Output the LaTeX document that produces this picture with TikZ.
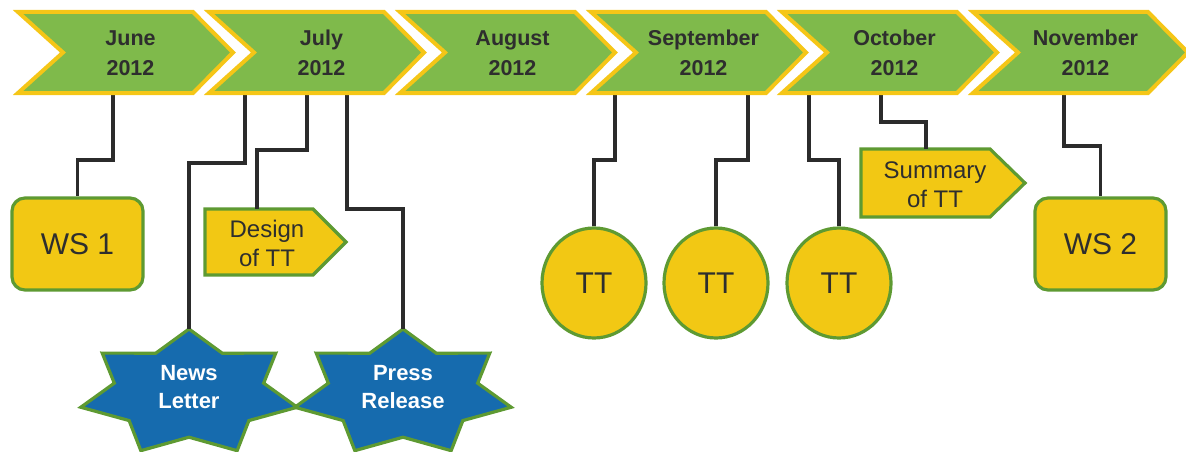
\documentclass[tikz,border=0pt]{standalone}
\usepackage{fontspec}
\setmainfont{Liberation Sans}
\usetikzlibrary{shapes.geometric}
\definecolor{chevgreen}{HTML}{7FBA4B}
\definecolor{chevyellow}{HTML}{F5C617}
\definecolor{boxyellow}{HTML}{F2C814}
\definecolor{boxgreen}{HTML}{5E9A32}
\definecolor{starblue}{HTML}{166BAE}
\definecolor{linegray}{HTML}{2B2B2B}
\definecolor{txtgray}{HTML}{2E2E2E}
\begin{document}
\begin{tikzpicture}[x=1pt,y=-1pt,
  chev/.style={fill=chevgreen, draw=chevyellow, line width=4pt, line join=miter},
  monthtxt/.style={font=\fontsize{21.5}{30}\selectfont\bfseries, text=txtgray, align=center, inner sep=0pt},
  conn/.style={draw=linegray, line width=3.4pt, line join=miter},
  ybox/.style={fill=boxyellow, draw=boxgreen, line width=3.2pt},
  wsbox/.style={ybox, rounded corners=13pt, minimum width=131pt, minimum height=92pt, font=\fontsize{30}{34}\selectfont, text=txtgray},
  ttcirc/.style={ybox, ellipse, minimum width=104pt, minimum height=110pt, inner sep=0pt, font=\fontsize{30}{34}\selectfont, text=txtgray},
  sigtxt/.style={font=\fontsize{24}{29}\selectfont, text=txtgray, align=center, inner sep=0pt},
  starshape/.style={fill=starblue, draw=boxgreen, line width=3.2pt, line join=miter},
  startxt/.style={font=\fontsize{22}{28}\selectfont\bfseries, text=white, align=center, inner sep=0pt}
]
\useasboundingbox (0,0) rectangle (1186,452);

% target shapes
\node[wsbox] (ws1) at (77.5,244) {WS 1};
\node[wsbox] (ws2) at (1100.5,244) {WS 2};
\node[ttcirc] (tt1) at (594,283) {TT};
\node[ttcirc] (tt2) at (716,283) {TT};
\node[ttcirc] (tt3) at (839,283) {TT};

\draw[ybox] (205,209) -- (313,209) -- (346,242) -- (313,275) -- (205,275) -- cycle;
\node[sigtxt] (des) at (267,243) {Design\\of TT};
\coordinate (desTop) at (257,209);

\draw[ybox] (861,149) -- (990,149) -- (1025,183) -- (990,217) -- (861,217) -- cycle;
\node[sigtxt] (sum) at (935,185) {Summary\\of TT};
\coordinate (sumTop) at (926,149);

\begin{scope}[shift={(189,393)}]
  \draw[starshape] (90:111pt and 64pt)
    \foreach \k in {0,...,6} { -- ({90+25.714+51.4286*\k}:76.6pt and 44.2pt) -- ({90+51.4286*(\k+1)}:111pt and 64pt) } -- cycle;
\end{scope}
\node[startxt] (nl) at (189,387) {News\\Letter};
\coordinate (nlTop) at (189,329);

\begin{scope}[shift={(403,393)}]
  \draw[starshape] (90:111pt and 64pt)
    \foreach \k in {0,...,6} { -- ({90+25.714+51.4286*\k}:76.6pt and 44.2pt) -- ({90+51.4286*(\k+1)}:111pt and 64pt) } -- cycle;
\end{scope}
\node[startxt] (pr) at (403,387) {Press\\Release};
\coordinate (prTop) at (403,329);

% connectors
\draw[conn] (113,90) -- (113,160) -| (ws1.north);
\draw[conn] (245,90) -- (245,163) -| (nlTop);
\draw[conn] (307,90) -- (307,150) -| (desTop);
\draw[conn] (347,90) -- (347,209) -| (prTop);
\draw[conn] (615,90) -- (615,160) -| (tt1.north);
\draw[conn] (748,90) -- (748,160) -| (tt2.north);
\draw[conn] (809,90) -- (809,160) -| (tt3.north);
\draw[conn] (881,90) -- (881,122) -| (sumTop);
\draw[conn] (1064,90) -- (1064,146) -| (ws2.north);

% chevrons
\foreach \i/\m in {0/June,1/July,2/August,3/September,4/October,5/November} {
  \pgfmathsetmacro{\xo}{18+191*\i}
  \draw[chev] (\xo,12) -- ({\xo+175},12) -- ({\xo+215},52.5) -- ({\xo+175},93) -- (\xo,93) -- ({\xo+45},52.5) -- cycle;
  \node[monthtxt] (m\i) at ({\xo+112.5},53) {\m\\2012};
}
\end{tikzpicture}
\end{document}
